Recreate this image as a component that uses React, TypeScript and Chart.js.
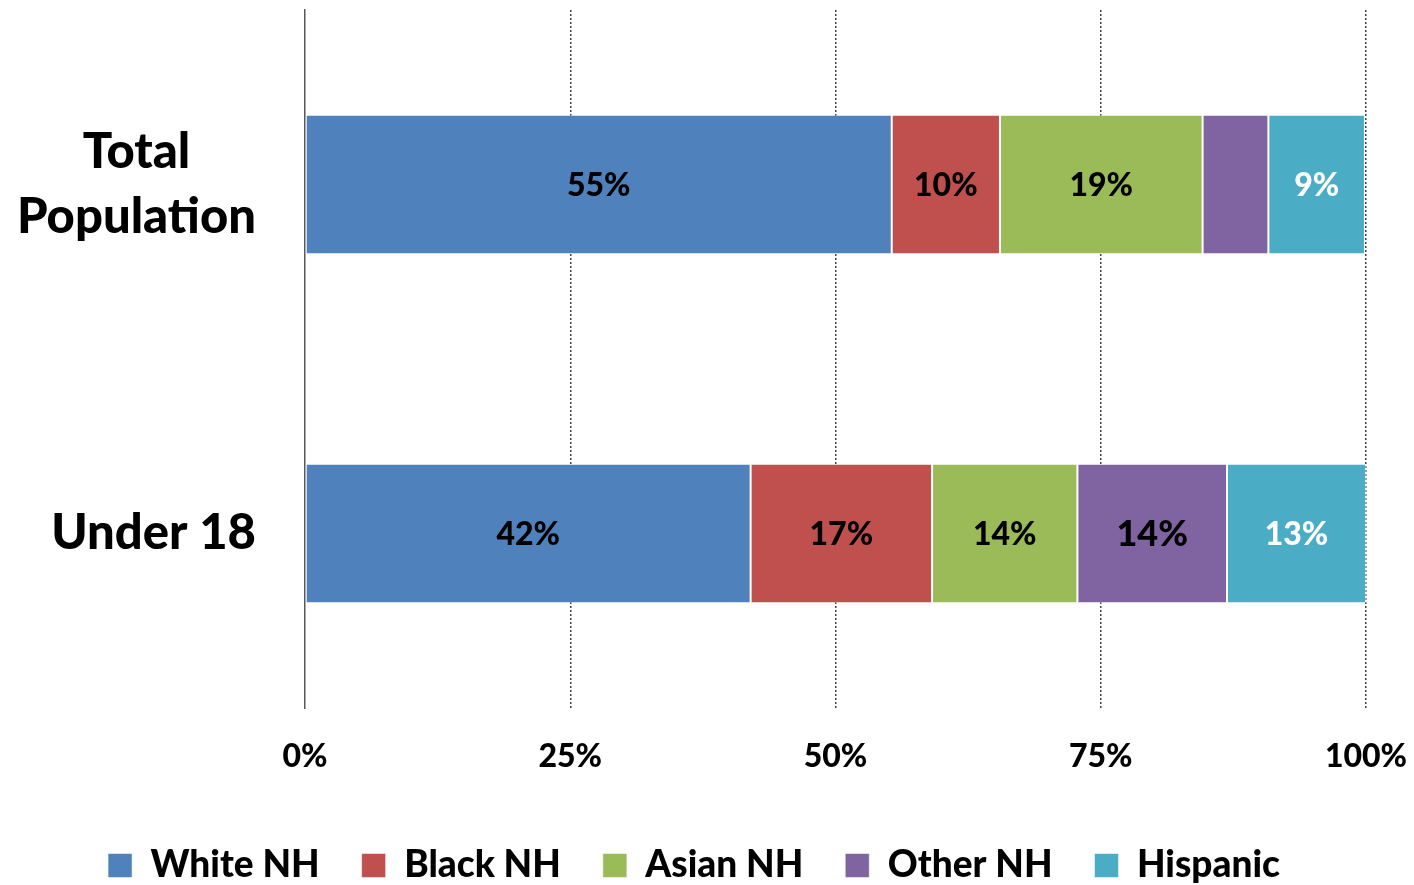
import React, { useEffect, useRef } from "react";
import { Chart, registerables } from "chart.js";

Chart.register(...registerables);

const categories: string[][] = [["Total", "Population"], ["Under 18"]];
const seriesNames = ["White NH", "Black NH", "Asian NH", "Other NH", "Hispanic"];
const seriesColors = ["#4F81BD", "#C0504D", "#9BBB59", "#8064A2", "#4BACC6"];
const labelColors = ["#000000", "#000000", "#000000", "#000000", "#FFFFFF"];
const labelSizes = [32, 32, 32, 36, 32];
const whiteNH = [55.3, 42.0];
const blackNH = [10.2, 17.1];
const asianNH = [19.1, 13.7];
const otherNH = [6.2, 14.1];
const hispanic = [9.1, 13.1];
const xTicks = [0, 25, 50, 75, 100];

const FONT = "Lato, 'Open Sans', sans-serif";
const WEIGHT = "900";

const dataLabelPlugin = {
  id: "dataLabels",
  afterDatasetsDraw(chart: any) {
    const ctx = chart.ctx;
    ctx.save();
    ctx.textAlign = "center";
    ctx.textBaseline = "middle";
    chart.data.datasets.forEach((ds: any, di: number) => {
      const meta = chart.getDatasetMeta(di);
      ctx.font = `${WEIGHT} ${labelSizes[di]}px ${FONT}`;
      meta.data.forEach((bar: any, i: number) => {
        const v = ds.data[i];
        if (v < 8) return;
        const { x, y, base } = bar.getProps(["x", "y", "base"], true);
        ctx.fillStyle = labelColors[di];
        ctx.fillText(Math.round(v) + "%", (x + base) / 2, y + 1);
      });
    });
    ctx.restore();
  },
};

const yLabelPlugin = {
  id: "yLabels",
  afterDraw(chart: any) {
    const ctx = chart.ctx;
    const yScale = chart.scales.y;
    ctx.save();
    ctx.font = `${WEIGHT} 49px ${FONT}`;
    ctx.fillStyle = "#000000";
    ctx.textAlign = "center";
    ctx.textBaseline = "middle";
    const rightEdge = yScale.right - 49;
    const lineH = 65;
    categories.forEach((lines, i) => {
      const cy = yScale.getPixelForValue(i);
      const widths = lines.map((l) => ctx.measureText(l).width);
      const maxW = Math.max(...widths);
      const cx = rightEdge - maxW / 2;
      lines.forEach((l, j) => {
        const ly = cy + (j - (lines.length - 1) / 2) * lineH;
        ctx.fillText(l, cx, ly);
      });
    });
    ctx.restore();
  },
};

export default function App() {
  const ref = useRef<HTMLCanvasElement>(null);
  useEffect(() => {
    const values = [whiteNH, blackNH, asianNH, otherNH, hispanic];
    const chart = new Chart(ref.current!, {
      type: "bar",
      data: {
        labels: categories.map((c) => c.join(" ")),
        datasets: seriesNames.map((name, i) => ({
          label: name,
          data: values[i],
          backgroundColor: seriesColors[i],
          borderColor: "rgba(255,255,255,0.5)",
          borderWidth: 1,
          borderSkipped: false,
          barPercentage: 0.4,
          categoryPercentage: 1,
        })),
      },
      options: {
        indexAxis: "y",
        animation: false,
        responsive: false,
        layout: { padding: { top: 10, right: 26, left: 0, bottom: -9 } },
        scales: {
          x: {
            stacked: true,
            min: 0,
            max: 100,
            afterBuildTicks: (s: any) => {
              s.ticks = xTicks.map((v) => ({ value: v }));
            },
            grid: {
              drawTicks: false,
              color: (c: any) => (c.tick && c.tick.value === 0 ? "rgba(0,0,0,0)" : "#404040"),
              lineWidth: 1.5,
            },
            border: { display: false, dash: [2, 2] },
            ticks: {
              padding: 29,
              color: "#000000",
              font: { family: FONT, size: 32, weight: WEIGHT },
              callback: (v: any) => v + "%",
            },
            afterFit: (s: any) => {
              s.height = 97;
              s.paddingLeft = 0;
              s.paddingRight = 48;
            },
          },
          y: {
            stacked: true,
            grid: { display: false },
            border: { display: true, color: "#595959", width: 1.5 },
            ticks: { display: false },
            afterFit: (s: any) => {
              s.width = 305;
            },
          },
        },
        plugins: {
          legend: {
            position: "bottom",
            labels: {
              boxWidth: 24,
              boxHeight: 24,
              padding: 42,
              color: "#000000",
              font: { family: FONT, size: 37, weight: WEIGHT },
            },
          },
          tooltip: { enabled: false },
        },
      },
      plugins: [dataLabelPlugin, yLabelPlugin],
    });
    return () => chart.destroy();
  }, []);
  return (
    <div style={{ position: "fixed", left: 0, top: 0, width: 1414, height: 885, background: "#fff" }}>
      <canvas ref={ref} width={1414} height={885} style={{ display: "block" }} />
    </div>
  );
}
